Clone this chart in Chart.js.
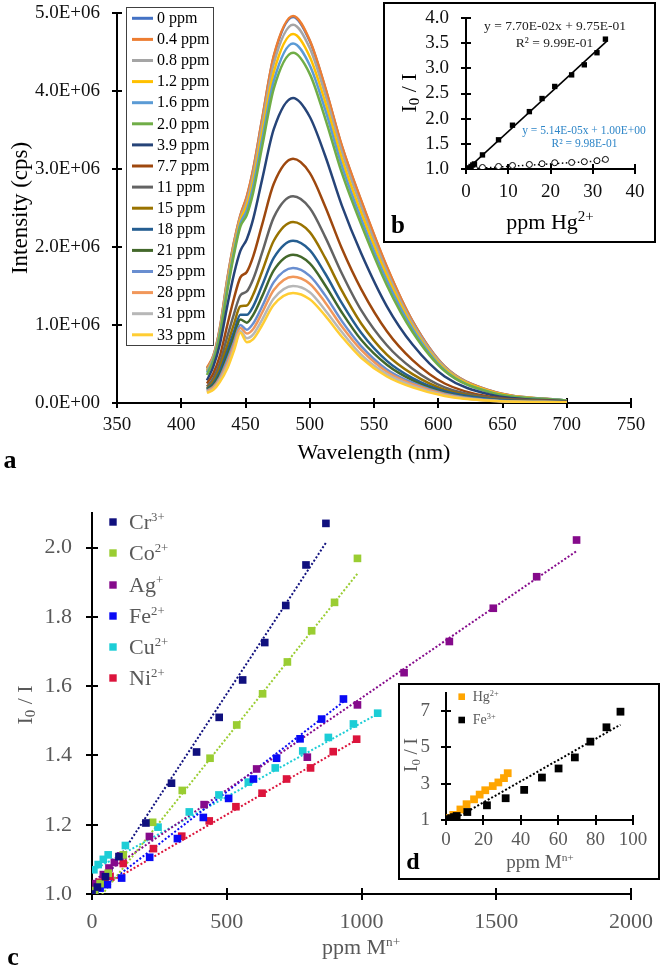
<!DOCTYPE html>
<html><head><meta charset="utf-8"><title>Fluorescence quenching by Hg2+</title>
<script src="https://cdn.jsdelivr.net/npm/chart.js@4.4.1/dist/chart.umd.min.js"></script>
<style>
html,body{margin:0;padding:0;background:#fff;}
body{width:666px;height:972px;position:relative;overflow:hidden;}
canvas{position:absolute;display:block;}
.box{position:absolute;box-sizing:border-box;border:2px solid #000;background:#fff;}
.box canvas{left:0;top:0;}
</style></head>
<body>
<canvas id="ca" width="666" height="480" style="left:0;top:0;width:666px;height:480px"></canvas>
<canvas id="cc" width="666" height="482" style="left:0;top:490px;width:666px;height:482px"></canvas>
<div class="box" style="left:383px;top:2px;width:273px;height:241px"><canvas id="cb" width="269" height="237" style="width:269px;height:237px"></canvas></div>
<div class="box" style="left:398px;top:683px;width:262px;height:197px"><canvas id="cd" width="258" height="193" style="width:258px;height:193px"></canvas></div>
<script>
const FONT = "'Liberation Serif','Times New Roman',Times,serif";

/* ---------- Panel a : emission spectra (intensity in 1E+06 cps) ---------- */
const wavelengths = [420,425,430,436,441,446,451,456,463,472,487,500,512,525,540,560,580,605,640,700];
const spectraLabels = ['0 ppm','0.4 ppm','0.8 ppm','1.2 ppm','1.6 ppm','2.0 ppm','3.9 ppm','7.7 ppm','11 ppm','15 ppm','18 ppm','21 ppm','25 ppm','28 ppm','31 ppm','33 ppm'];
const int_0   = [0.44,0.60,0.95,1.60,2.05,2.40,2.64,2.99,3.64,4.44,4.95,4.64,4.04,3.29,2.59,1.74,1.05,0.47,0.16,0.03];
const int_0_4 = [0.45,0.61,0.96,1.61,2.06,2.41,2.65,3.00,3.65,4.45,4.96,4.65,4.05,3.30,2.60,1.75,1.05,0.47,0.16,0.03];
const int_0_8 = [0.42,0.59,0.93,1.57,2.02,2.37,2.59,2.93,3.57,4.35,4.85,4.55,3.96,3.22,2.52,1.69,1.02,0.46,0.15,0.03];
const int_1_2 = [0.41,0.57,0.91,1.53,1.98,2.34,2.53,2.85,3.47,4.24,4.73,4.44,3.86,3.13,2.44,1.63,0.98,0.44,0.15,0.03];
const int_1_6 = [0.39,0.56,0.89,1.49,1.94,2.30,2.47,2.78,3.38,4.13,4.61,4.33,3.76,3.04,2.36,1.57,0.95,0.42,0.14,0.03];
const int_2_0 = [0.36,0.54,0.86,1.45,1.90,2.26,2.41,2.70,3.29,4.03,4.49,4.22,3.65,2.95,2.29,1.51,0.91,0.41,0.14,0.03];
const int_3_9 = [0.29,0.47,0.75,1.26,1.65,1.95,2.10,2.36,2.87,3.51,3.91,3.67,3.17,2.53,1.92,1.24,0.75,0.34,0.11,0.02];
const int_7_7 = [0.25,0.38,0.60,1.01,1.34,1.61,1.68,1.88,2.29,2.81,3.13,2.95,2.52,1.98,1.46,0.92,0.55,0.25,0.08,0.02];
const int_11  = [0.21,0.32,0.51,0.86,1.14,1.38,1.43,1.59,1.93,2.38,2.65,2.50,2.13,1.66,1.19,0.74,0.44,0.20,0.07,0.02];
const int_15  = [0.19,0.28,0.45,0.75,1.01,1.24,1.25,1.39,1.69,2.08,2.32,2.19,1.86,1.44,1.02,0.62,0.37,0.17,0.06,0.01];
const int_18  = [0.18,0.25,0.40,0.67,0.91,1.13,1.13,1.24,1.51,1.86,2.08,1.96,1.66,1.28,0.90,0.54,0.32,0.15,0.05,0.01];
const int_21  = [0.17,0.23,0.36,0.61,0.85,1.07,1.03,1.13,1.37,1.70,1.90,1.79,1.51,1.16,0.81,0.49,0.29,0.13,0.04,0.01];
const int_25  = [0.16,0.21,0.33,0.56,0.78,1.00,0.94,1.02,1.24,1.55,1.73,1.63,1.38,1.05,0.73,0.43,0.26,0.12,0.04,0.01];
const int_28  = [0.15,0.20,0.31,0.52,0.74,0.96,0.89,0.95,1.16,1.45,1.62,1.53,1.29,0.98,0.68,0.40,0.24,0.11,0.03,0.01];
const int_31  = [0.14,0.18,0.29,0.48,0.70,0.92,0.83,0.88,1.07,1.34,1.50,1.42,1.19,0.91,0.62,0.37,0.22,0.10,0.03,0.01];
const int_33  = [0.13,0.17,0.27,0.45,0.67,0.90,0.78,0.82,1.00,1.26,1.41,1.33,1.12,0.85,0.58,0.34,0.20,0.09,0.03,0.01];
const intensityTicks = [0,1,2,3,4,5];
const wavelengthTicks = [350,400,450,500,550,600,650,700,750];

/* ---------- Panel b : Stern-Volmer, Hg2+ ---------- */
const hgPpm = [0,0.4,0.8,1.2,1.6,2.0,3.9,7.7,11,15,18,21,25,28,31,33];
const hgRatio = [1.00,1.00,1.02,1.05,1.08,1.10,1.28,1.58,1.87,2.14,2.40,2.64,2.87,3.07,3.31,3.58];
const controlRatio = [1.00,1.00,1.00,1.00,1.00,1.01,1.03,1.05,1.07,1.09,1.105,1.125,1.13,1.145,1.165,1.19];
const hgFitX = [0,33.4];
const hgFitY = [0.975,3.547];
const controlFitX = [0,33.4];
const controlFitY = [1.00,1.17];
const bRatioTicks = [1.0,1.5,2.0,2.5,3.0,3.5,4.0];
const bPpmTicks = [0,10,20,30,40];

/* ---------- Panel c : other metal ions ---------- */
const crX = [0,20,50,100,200,295,388,472,559,641,719,794,868];
const crY = [1.00,1.02,1.05,1.108,1.205,1.32,1.41,1.51,1.618,1.726,1.833,1.95,2.07];
const coX = [0,10,30,60,116,225,335,438,537,633,725,815,900,985];
const coY = [1.00,1.01,1.03,1.06,1.113,1.207,1.299,1.392,1.488,1.578,1.670,1.760,1.842,1.969];
const agX = [0,15,42,63,83,106,213,416,611,799,985,1158,1326,1489,1650,1798];
const agY = [1.00,1.03,1.056,1.075,1.091,1.11,1.166,1.258,1.361,1.395,1.546,1.639,1.729,1.825,1.916,2.022];
const feX = [0,11,30,57,110,214,317,413,507,599,685,772,852,933];
const feY = [1.00,1.008,1.017,1.027,1.046,1.106,1.16,1.221,1.276,1.332,1.392,1.448,1.505,1.563];
const cuX = [7,23,42,60,124,245,361,471,580,680,782,877,970,1060];
const cuY = [1.07,1.085,1.10,1.113,1.14,1.193,1.237,1.286,1.323,1.364,1.413,1.452,1.491,1.522];
const niX = [0,17,30,48,67,116,228,333,435,534,631,722,811,895,982];
const niY = [1.00,1.024,1.034,1.043,1.051,1.088,1.131,1.167,1.211,1.252,1.291,1.332,1.364,1.411,1.447];
const crFitX = [0,868],  crFitY = [0.985,2.014];
const coFitX = [0,985],  coFitY = [0.962,1.925];
const agFitX = [0,1798], agFitY = [1.035,1.99];
const feFitX = [0,933],  feFitY = [0.995,1.555];
const cuFitX = [7,1060], cuFitY = [1.07,1.52];
const niFitX = [0,982],  niFitY = [1.005,1.445];
const ionNames = ['Cr','Co','Ag','Fe','Cu','Ni'];
const ionCharges = ['3+','2+','+','2+','2+','2+'];
const cRatioTicks = [1.0,1.2,1.4,1.6,1.8,2.0];
const cPpmTicks = [0,500,1000,1500,2000];

/* ---------- Panel d : Hg2+ and Fe3+ ---------- */
const fe3X = [0,1.4,2.8,4.3,5.7,11.4,21.9,31.9,41.8,51.3,60.2,68.9,77.2,85.8,93.3];
const fe3Y = [1.00,1.05,1.10,1.16,1.22,1.44,1.81,2.20,2.66,3.34,3.84,4.45,5.32,6.11,6.97];
const fe3FitX = [0,93.3], fe3FitY = [0.80,6.25];
const dRatioTicks = [1,3,5,7];
const dPpmTicks = [0,20,40,60,80,100];

/* ---------- styles ---------- */
const spectra = [int_0,int_0_4,int_0_8,int_1_2,int_1_6,int_2_0,int_3_9,int_7_7,int_11,int_15,int_18,int_21,int_25,int_28,int_31,int_33];
const spectraColors = ['#4472C4','#ED7D31','#A5A5A5','#FFC000','#5B9BD5','#70AD47','#264478','#9E480E','#636363','#997300','#255E91','#43682B','#698ED0','#F1975A','#B7B7B7','#FFCD33'];
const ionColors = ['#10107E','#9ACD32','#850A8B','#0A0AF5','#1CCDD6','#DC143C'];
const GRAY = '#595959';

const pts = (xs, ys) => xs.map((x, i) => ({x: x, y: ys[i]}));

function rich(ctx, segs, x, y, o) {
  const size = o.size, wt = o.weight ? o.weight + ' ' : '';
  const sc = o.scriptScale || 0.6;
  const fontFor = k => wt + (k ? size * sc : size) + 'px ' + FONT;
  let w = 0;
  segs.forEach(([t, k]) => { ctx.font = fontFor(k); w += ctx.measureText(t).width; });
  ctx.save();
  ctx.translate(x, y);
  if (o.rotate) ctx.rotate(o.rotate);
  ctx.fillStyle = o.color || '#000';
  ctx.textBaseline = 'middle';
  ctx.textAlign = 'left';
  let cx = o.align === 'left' ? 0 : -w / 2;
  segs.forEach(([t, k]) => {
    ctx.font = fontFor(k);
    const dy = k === 'sup' ? -size * 0.26 : (k === 'sub' ? size * 0.24 : 0);
    ctx.fillText(t, cx, dy);
    cx += ctx.measureText(t).width;
  });
  ctx.restore();
}

function crossTicks(len) {
  return {
    id: 'crossTicks',
    beforeDatasetsDraw(chart) {
      const {ctx, chartArea: a} = chart;
      const sx = chart.scales.x, sy = chart.scales.y;
      ctx.save();
      ctx.strokeStyle = '#000';
      ctx.lineWidth = 2;
      ctx.beginPath();
      sx.ticks.forEach(t => { const p = Math.round(sx.getPixelForValue(t.value)); ctx.moveTo(p, a.bottom - len); ctx.lineTo(p, a.bottom + len); });
      sy.ticks.forEach(t => { const p = Math.round(sy.getPixelForValue(t.value)); ctx.moveTo(a.left - len, p); ctx.lineTo(a.left + len, p); });
      ctx.stroke();
      ctx.restore();
    }
  };
}

function fixedScale(o) {
  return {
    type: 'linear', min: o.min, max: o.max,
    afterBuildTicks: s => { s.ticks = o.ticks.map(v => ({value: v})); },
    afterFit: s => {
      if (o.horizontal) s.height = o.size; else s.width = o.size;
      s.paddingTop = 0; s.paddingBottom = 0; s.paddingLeft = 0; s.paddingRight = 0;
    },
    grid: {display: false, drawTicks: false},
    border: {display: true, color: '#000', width: 2},
    title: {display: false},
    ticks: {font: {family: FONT, size: o.font}, color: o.color, padding: o.pad,
            maxRotation: 0, minRotation: 0, autoSkip: false, callback: v => o.fmt(v)}
  };
}

function baseOptions(padding, x, y) {
  return {
    responsive: false, animation: false, events: [], devicePixelRatio: 1,
    layout: {padding: padding},
    plugins: {legend: {display: false}, tooltip: {enabled: false}},
    scales: {x: x, y: y}
  };
}

/* ---------- chart a ---------- */
const decoA = {
  id: 'decoA',
  afterDraw(chart) {
    const ctx = chart.ctx;
    ctx.save();
    ctx.fillStyle = '#fff';
    ctx.fillRect(126.5, 7.5, 87, 338);
    ctx.strokeStyle = '#404040';
    ctx.lineWidth = 1;
    ctx.strokeRect(126.5, 7.5, 87, 338);
    chart.data.datasets.forEach((ds, i) => {
      const cy = 18.3 + i * 21.1;
      ctx.strokeStyle = ds.borderColor;
      ctx.lineWidth = 3;
      ctx.beginPath(); ctx.moveTo(132, cy); ctx.lineTo(153, cy); ctx.stroke();
      ctx.fillStyle = '#000';
      ctx.font = '16px ' + FONT;
      ctx.textBaseline = 'middle';
      ctx.textAlign = 'left';
      ctx.fillText(ds.label, 157, cy + 0.5);
    });
    ctx.restore();
    rich(ctx, [['Intensity (cps)']], 21, 208, {size: 23, rotate: -Math.PI / 2, color: '#000'});
    rich(ctx, [['Wavelength (nm)']], 374, 453, {size: 22, color: '#000'});
    rich(ctx, [['a']], 10, 461, {size: 26, weight: 'bold', color: '#000'});
  }
};

new Chart(document.getElementById('ca'), {
  type: 'line',
  data: {
    datasets: spectra.map((arr, i) => ({
      label: spectraLabels[i],
      data: pts(wavelengths, arr),
      borderColor: spectraColors[i],
      backgroundColor: spectraColors[i],
      borderWidth: 2.5,
      pointRadius: 0,
      cubicInterpolationMode: 'monotone',
      fill: false,
      order: spectra.length - i
    }))
  },
  options: baseOptions({left: 0, top: 13, right: 35, bottom: 0},
    fixedScale({min: 350, max: 750, ticks: wavelengthTicks, fmt: v => String(v), font: 19, color: '#111', pad: 10.5, size: 77, horizontal: true}),
    fixedScale({min: 0, max: 5, ticks: intensityTicks, fmt: v => v === 0 ? '0.0E+00' : v.toFixed(1) + 'E+06', font: 19, color: '#111', pad: 17, size: 117})),
  plugins: [crossTicks(5), decoA]
});

/* ---------- chart b ---------- */
const decoB = {
  id: 'decoB',
  afterDraw(chart) {
    const ctx = chart.ctx;
    rich(ctx, [['I'], ['0', 'sub'], [' / I']], 25, 89, {size: 22, rotate: -Math.PI / 2, color: '#000', scriptScale: 0.68});
    rich(ctx, [['ppm Hg'], ['2+', 'sup']], 165, 219, {size: 22, color: '#000', scriptScale: 0.68});
    rich(ctx, [['b']], 13, 223, {size: 25, weight: 'bold', color: '#000'});
    rich(ctx, [['y = 7.70E-02x + 9.75E-01']], 170, 22.5, {size: 13.5, color: '#222'});
    rich(ctx, [['R\u00B2 = 9.99E-01']], 169.5, 39, {size: 13.5, color: '#222'});
    rich(ctx, [['y = 5.14E-05x + 1.00E+00']], 199, 127, {size: 11.5, color: '#2E86C8'});
    rich(ctx, [['R\u00B2 = 9.98E-01']], 199.5, 140, {size: 11.5, color: '#2E86C8'});
  }
};

new Chart(document.getElementById('cb'), {
  type: 'scatter',
  data: {
    datasets: [
      {label: 'Hg2+', data: pts(hgPpm, hgRatio), pointStyle: 'rect', pointRadius: 3.8, backgroundColor: '#000', borderWidth: 0, showLine: false, order: 1},
      {label: 'Hg2+ fit', data: pts(hgFitX, hgFitY), showLine: true, borderColor: '#000', borderWidth: 1.6, pointRadius: 0, order: 2},
      {label: 'control', data: pts(hgPpm, controlRatio), pointStyle: 'circle', pointRadius: 3, backgroundColor: '#fff', borderColor: '#000', borderWidth: 1, showLine: false, order: 3},
      {label: 'control fit', data: pts(controlFitX, controlFitY), showLine: true, borderColor: '#000', borderWidth: 1.5, borderDash: [1.5, 2.5], pointRadius: 0, order: 4}
    ]
  },
  options: baseOptions({left: 0, top: 14, right: 19, bottom: 0},
    fixedScale({min: 0, max: 40, ticks: bPpmTicks, fmt: v => String(v), font: 19, color: '#111', pad: 11.5, size: 72, horizontal: true}),
    fixedScale({min: 1, max: 4, ticks: bRatioTicks, fmt: v => v.toFixed(1), font: 19, color: '#111', pad: 17, size: 81})),
  plugins: [crossTicks(5), decoB]
});

/* ---------- chart c ---------- */
const ionSeries = [[crX, crY, crFitX, crFitY], [coX, coY, coFitX, coFitY], [agX, agY, agFitX, agFitY],
                   [feX, feY, feFitX, feFitY], [cuX, cuY, cuFitX, cuFitY], [niX, niY, niFitX, niFitY]];
const cDatasets = [];
ionSeries.forEach((s, i) => {
  cDatasets.push({label: ionNames[i] + ionCharges[i], data: pts(s[0], s[1]), pointStyle: 'rect', pointRadius: 5.4,
    backgroundColor: ionColors[i], borderWidth: 0, showLine: false, order: 1});
  cDatasets.push({label: ionNames[i] + ' fit', data: pts(s[2], s[3]), showLine: true, borderColor: ionColors[i],
    borderWidth: 2, borderDash: [2, 2], pointRadius: 0, order: 10});
});

const decoC = {
  id: 'decoC',
  afterDraw(chart) {
    const ctx = chart.ctx;
    const rows = [32, 63, 95, 126, 157, 188];
    ionNames.forEach((n, i) => {
      ctx.fillStyle = ionColors[i];
      ctx.fillRect(113 - 3.7, rows[i] - 3.7, 7.4, 7.4);
      rich(ctx, [[n], [ionCharges[i], 'sup']], 129, rows[i] + 1, {size: 22, color: GRAY, align: 'left', scriptScale: 0.58});
    });
    rich(ctx, [['I'], ['0', 'sub'], [' / I']], 26, 215, {size: 22, rotate: -Math.PI / 2, color: GRAY, scriptScale: 0.68});
    rich(ctx, [['ppm M'], ['n+', 'sup']], 361, 458, {size: 22, color: GRAY, scriptScale: 0.6});
    rich(ctx, [['c']], 13, 468, {size: 26, weight: 'bold', color: '#000'});
  }
};

new Chart(document.getElementById('cc'), {
  type: 'scatter',
  data: {datasets: cDatasets},
  options: baseOptions({left: 0, top: 23, right: 35, bottom: 0},
    fixedScale({min: 0, max: 2000, ticks: cPpmTicks, fmt: v => String(v), font: 22, color: GRAY, pad: 15.5, size: 78, horizontal: true}),
    fixedScale({min: 1, max: 2.1, ticks: cRatioTicks, fmt: v => v.toFixed(1), font: 22, color: GRAY, pad: 20, size: 92})),
  plugins: [crossTicks(6), decoC]
});

/* ---------- chart d ---------- */
const decoD = {
  id: 'decoD',
  afterDraw(chart) {
    const ctx = chart.ctx;
    ctx.fillStyle = '#FFA500';
    ctx.fillRect(61.7 - 3.3, 11.7 - 3.3, 6.6, 6.6);
    ctx.fillStyle = '#000';
    ctx.fillRect(61.7 - 3.3, 35 - 3.3, 6.6, 6.6);
    rich(ctx, [['Hg'], ['2+', 'sup']], 72.7, 12.5, {size: 14, color: GRAY, align: 'left', scriptScale: 0.6});
    rich(ctx, [['Fe'], ['3+', 'sup']], 72.7, 35.5, {size: 14, color: GRAY, align: 'left', scriptScale: 0.6});
    rich(ctx, [['I'], ['0', 'sub'], [' / I']], 12, 70, {size: 19, rotate: -Math.PI / 2, color: GRAY, scriptScale: 0.68});
    rich(ctx, [['ppm M'], ['n+', 'sup']], 140, 178, {size: 19, color: GRAY, scriptScale: 0.6});
    rich(ctx, [['d']], 13, 178, {size: 24, weight: 'bold', color: '#000'});
  }
};

new Chart(document.getElementById('cd'), {
  type: 'scatter',
  data: {
    datasets: [
      {label: 'Fe3+', data: pts(fe3X, fe3Y), pointStyle: 'rect', pointRadius: 5.5, backgroundColor: '#000', borderWidth: 0, showLine: false, order: 1},
      {label: 'Hg2+', data: pts(hgPpm, hgRatio), pointStyle: 'rect', pointRadius: 5.5, backgroundColor: '#FFA500', borderWidth: 0, showLine: false, order: 2},
      {label: 'Fe3+ fit', data: pts(fe3FitX, fe3FitY), showLine: true, borderColor: '#000', borderWidth: 2, borderDash: [2, 2], pointRadius: 0, order: 3},
      {label: 'Hg2+ fit', data: pts(hgFitX, hgFitY), showLine: true, borderColor: '#FFC000', borderWidth: 2, borderDash: [2, 2], pointRadius: 0, order: 4}
    ]
  },
  options: baseOptions({left: 0, top: 8, right: 25, bottom: 0},
    fixedScale({min: 0, max: 100, ticks: dPpmTicks, fmt: v => String(v), font: 19, color: GRAY, pad: 8.5, size: 58, horizontal: true}),
    fixedScale({min: 1, max: 8, ticks: dRatioTicks, fmt: v => String(v), font: 19, color: GRAY, pad: 16, size: 46})),
  plugins: [crossTicks(5), decoD]
});
</script>
</body></html>
